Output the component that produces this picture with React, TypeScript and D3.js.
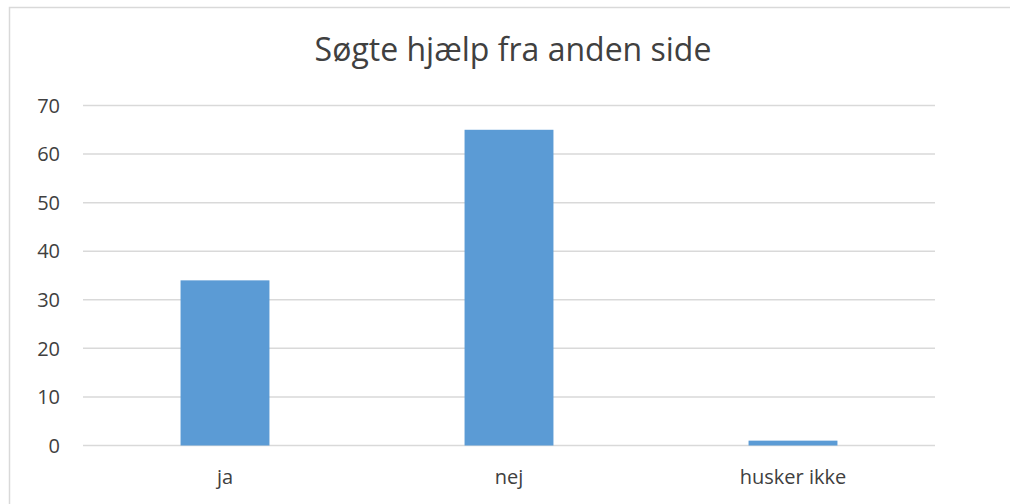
import React from "react";
import * as d3 from "d3";

const categories = ["ja", "nej", "husker ikke"];
const values = [34, 65, 1];
const yTicks = [0, 10, 20, 30, 40, 50, 60, 70];
const title = "Søgte hjælp fra anden side";

export default function App() {
  const W = 1010, H = 504;
  const left = 83, right = 935, top = 105.5, bottom = 445.5;
  const x = d3.scaleBand<string>().domain(categories).range([left, right]).padding(0);
  const y = d3.scaleLinear().domain([0, 70]).range([bottom, top]);
  const barW = x.bandwidth() * 0.313;
  const font = "'Open Sans', sans-serif";
  return (
    <svg width={W} height={H} style={{ position: "absolute", left: 0, top: 0, background: "#fff" }}>
      <rect x={9.5} y={7.5} width={1010} height={510} fill="#fff" stroke="#d9d9d9" strokeWidth={1.5} />
      <text x={513} y={61} textAnchor="middle" fontFamily={font} fontSize={32} fill="#404040">{title}</text>
      {yTicks.map((t) => (
        <g key={t}>
          <line x1={left} x2={right} y1={y(t)} y2={y(t)} stroke="#d9d9d9" strokeWidth={1.5} />
          <text x={60} y={y(t)} dy="0.36em" textAnchor="end" fontFamily={font} fontSize={20} fill="#404040">{t}</text>
        </g>
      ))}
      {categories.map((c, i) => (
        <rect key={c} x={x(c)! + x.bandwidth() / 2 - barW / 2} y={y(values[i])} width={barW} height={y(0) - y(values[i])} fill="#5b9bd5" />
      ))}
      {categories.map((c) => (
        <text key={c} x={x(c)! + x.bandwidth() / 2} y={484} textAnchor="middle" fontFamily={font} fontSize={20} fill="#404040">{c}</text>
      ))}
    </svg>
  );
}
